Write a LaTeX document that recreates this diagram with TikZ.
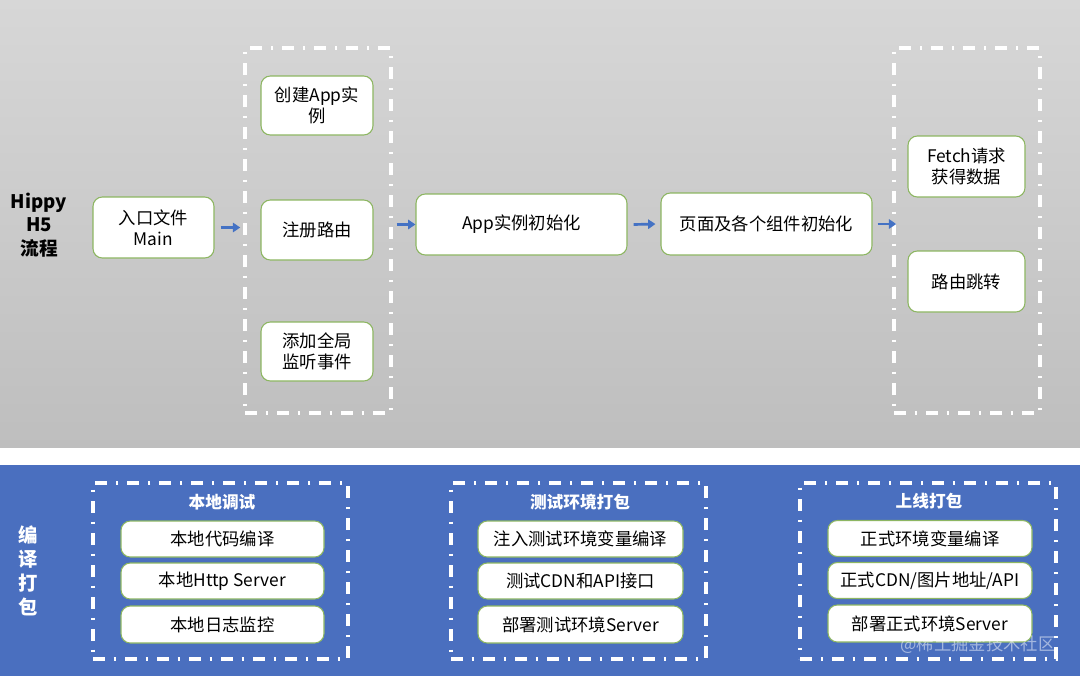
\documentclass[tikz,border=0pt]{standalone}
\usepackage{fontspec}
\setmainfont{Noto Sans CJK SC}
\usepackage{tikz}
\usetikzlibrary{arrows.meta, calc}

\definecolor{boxGreen}{HTML}{8DB662}
\definecolor{flowBlue}{HTML}{4472C4}
\definecolor{panelBlue}{HTML}{4A6FBF}
\definecolor{grayTop}{HTML}{D7D7D7}
\definecolor{grayBottom}{HTML}{BEBEBE}

\begin{document}
\begin{tikzpicture}[x=0.75pt, y=-0.75pt, >=Latex,
	wh/.style 2 args={minimum width=#1*0.75pt, minimum height=#2*0.75pt},
	flowbox/.style={draw=boxGreen, line width=0.8pt, fill=white, rounded corners=7pt, align=center, inner sep=0pt, font=\fontsize{13pt}{15.5pt}\selectfont},
	groupbox/.style={draw=white, line width=2.6pt, dash pattern=on 9pt off 6.5pt on 2pt off 6.5pt, inner sep=0pt},
	flow/.style={flowBlue, line width=2pt, -{Triangle[length=5.5pt, width=7pt]}},
	sidelabel/.style={align=center, font=\fontsize{14pt}{17.5pt}\selectfont\bfseries},
	grouptitle/.style={text=white, font=\fontsize{12.5pt}{15pt}\selectfont\bfseries}]
			
			\useasboundingbox (0,0) rectangle (1080,676);
			
			% Backgrounds
			\shade[top color=grayTop, bottom color=grayBottom] (0,0) rectangle (1080,448);
			\fill[white] (0,448) rectangle (1080,465);
			\fill[panelBlue] (0,465) rectangle (1080,676);
			
			% Hippy H5 flow
			\node[sidelabel] (Hippy) at (39,225) {Hippy\\H5\\流程};
			\node[flowbox, wh={121}{61}] (Main) at (153.5,227.5) {入口文件\\Main};
			
			% First group
			\node[groupbox, wh={146}{365}] (G1) at (318,230.5) {};
			\node[flowbox, wh={112}{59}] (CreateApp) at (317,105.5) {创建App实\\例};
			\node[flowbox, wh={112}{60}] (Router) at (317,230) {注册路由};
			\node[flowbox, wh={112}{59}] (Listen) at (317,351.5) {添加全局\\监听事件};
			
			% Initialisation
			\node[flowbox, wh={211}{61}] (AppInit) at (521.5,224.5) {App实例初始化};
			\node[flowbox, wh={211}{62}] (PageInit) at (766.5,224) {页面及各个组件初始化};
			
			% Second group
			\node[groupbox, wh={146}{365}] (G2) at (967,230.5) {};
			\node[flowbox, wh={117}{61}] (Fetch) at (966.5,166.5) {Fetch请求\\获得数据};
			\node[flowbox, wh={117}{61}] (Jump) at (966.5,281.5) {路由跳转};
			
			% Arrows
			\draw[flow] ($(Main.east)+(6,0)$) -- ($(Main.east -| G1.west)+(-3,0)$);
			\draw[flow] ($(AppInit.west -| G1.east)+(4,0)$) -- (AppInit.west);
			\draw[flow] ($(AppInit.east)+(6,0)$) -- ($(PageInit.west)+(-5,0)$);
			\draw[flow] ($(PageInit.east)+(5,0)$) -- ($(PageInit.east -| G2.west)+(4,0)$);
			
			% Build and package
			\node[sidelabel, text=white, font=\fontsize{14.5pt}{18pt}\selectfont\bfseries] (Build) at (28,571) {编\\译\\打\\包};
			
			% Local debug
			\node[groupbox, wh={255}{176}] (B1) at (220.5,571) {};
			\node[grouptitle] (B1Title) at (222,502) {本地调试};
			\node[flowbox, wh={203}{36}] (LocalCompile) at (222.5,539) {本地代码编译};
			\node[flowbox, wh={203}{36}] (LocalServer) at (222.5,581) {本地Http Server};
			\node[flowbox, wh={203}{37}] (LocalLog) at (222.5,624.5) {本地日志监控};
			
			% Test package
			\node[groupbox, wh={255}{176}] (B2) at (578.5,571) {};
			\node[grouptitle] (B2Title) at (580,502) {测试环境打包};
			\node[flowbox, wh={205}{36}] (TestCompile) at (580.5,539) {注入测试环境变量编译};
			\node[flowbox, wh={205}{36}] (TestApi) at (580.5,581) {测试CDN和API接口};
			\node[flowbox, wh={205}{37}] (TestServer) at (580.5,624.5) {部署测试环境Server};
			
			% Release package
			\node[groupbox, wh={256}{176}] (B3) at (928,571) {};
			\node[grouptitle] (B3Title) at (929,501) {上线打包};
			\node[flowbox, wh={204}{36}] (ProdCompile) at (930,538.5) {正式环境变量编译};
			\node[flowbox, wh={204}{36}] (ProdApi) at (930,580.5) {正式CDN/图片地址/API};
			\node[flowbox, wh={204}{37}] (ProdServer) at (930,623.5) {部署正式环境Server};
			
			% Watermark
			\node[text=white, opacity=0.5, font=\fontsize{13pt}{15pt}\selectfont] (Mark) at (978,645) {@稀土掘金技术社区};
			
		\end{tikzpicture}
\end{document}
